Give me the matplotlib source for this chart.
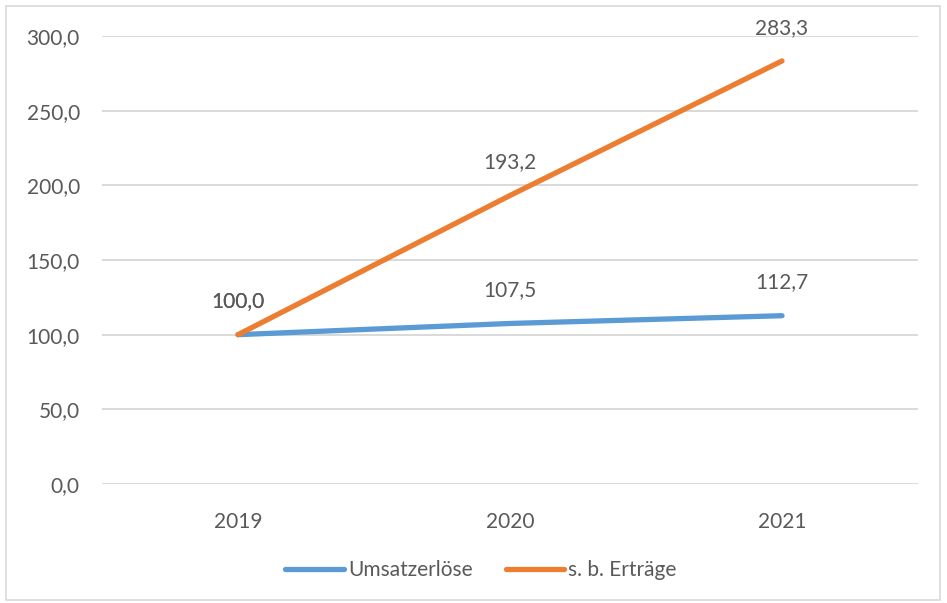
import numpy as np
import matplotlib.pyplot as plt
from matplotlib.patches import Rectangle

years = ['2019', '2020', '2021']
umsatz = [100.0, 107.5, 112.7]
ertraege = [100.0, 193.2, 283.3]
yticks = [0, 50, 100, 150, 200, 250, 300]

plt.rcParams['font.family'] = ['Lato', 'DejaVu Sans']
grey = '#595959'
fs = 15

fig = plt.figure(figsize=(9.47, 6.03), dpi=100)
ax = fig.add_axes([102/947, 1-484/603, 816/947, 448/603])

x = np.arange(len(years))
ax.plot(x, umsatz, color='#5B9BD5', lw=3.8, solid_capstyle='round', label='Umsatzerlöse', zorder=3)
ax.plot(x, ertraege, color='#ED7D31', lw=3.8, solid_capstyle='round', label='s. b. Erträge', zorder=3)

def fmt(v):
    return f'{v:.1f}'.replace('.', ',')

# Datenbeschriftungen ueber den Punkten
for xi, v in zip(x, umsatz):
    ax.annotate(fmt(v), (xi, v), xytext=(0, 24), textcoords='offset points',
                ha='center', va='center', fontsize=fs, color=grey)
for xi, v in zip(x, ertraege):
    ax.annotate(fmt(v), (xi, v), xytext=(0, 24), textcoords='offset points',
                ha='center', va='center', fontsize=fs, color=grey)

ax.set_xlim(-0.5, 2.5)
ax.set_ylim(0, 300)
ax.set_xticks(x)
ax.set_xticklabels(years)
ax.set_yticks(yticks)
ax.set_yticklabels([fmt(v) for v in yticks])
ax.tick_params(length=0, labelsize=fs, labelcolor=grey)
ax.tick_params(axis='y', pad=16)
ax.tick_params(axis='x', pad=20)
for s in ax.spines.values():
    s.set_visible(False)
ax.grid(axis='y', color='#D9D9D9', lw=1.4)
ax.set_axisbelow(True)

fig.legend(loc='center', bbox_to_anchor=(481/947, 1-570/603), ncol=2, frameon=False,
           fontsize=fs, labelcolor=grey, handlelength=2.8, handletextpad=0.2,
           columnspacing=1.6)

fig.patches.append(Rectangle((6/947, 3/603), 934/947, 594/603, transform=fig.transFigure,
                             fill=False, edgecolor='#D9D9D9', lw=1.2))

fig.savefig('out.png', dpi=100)
